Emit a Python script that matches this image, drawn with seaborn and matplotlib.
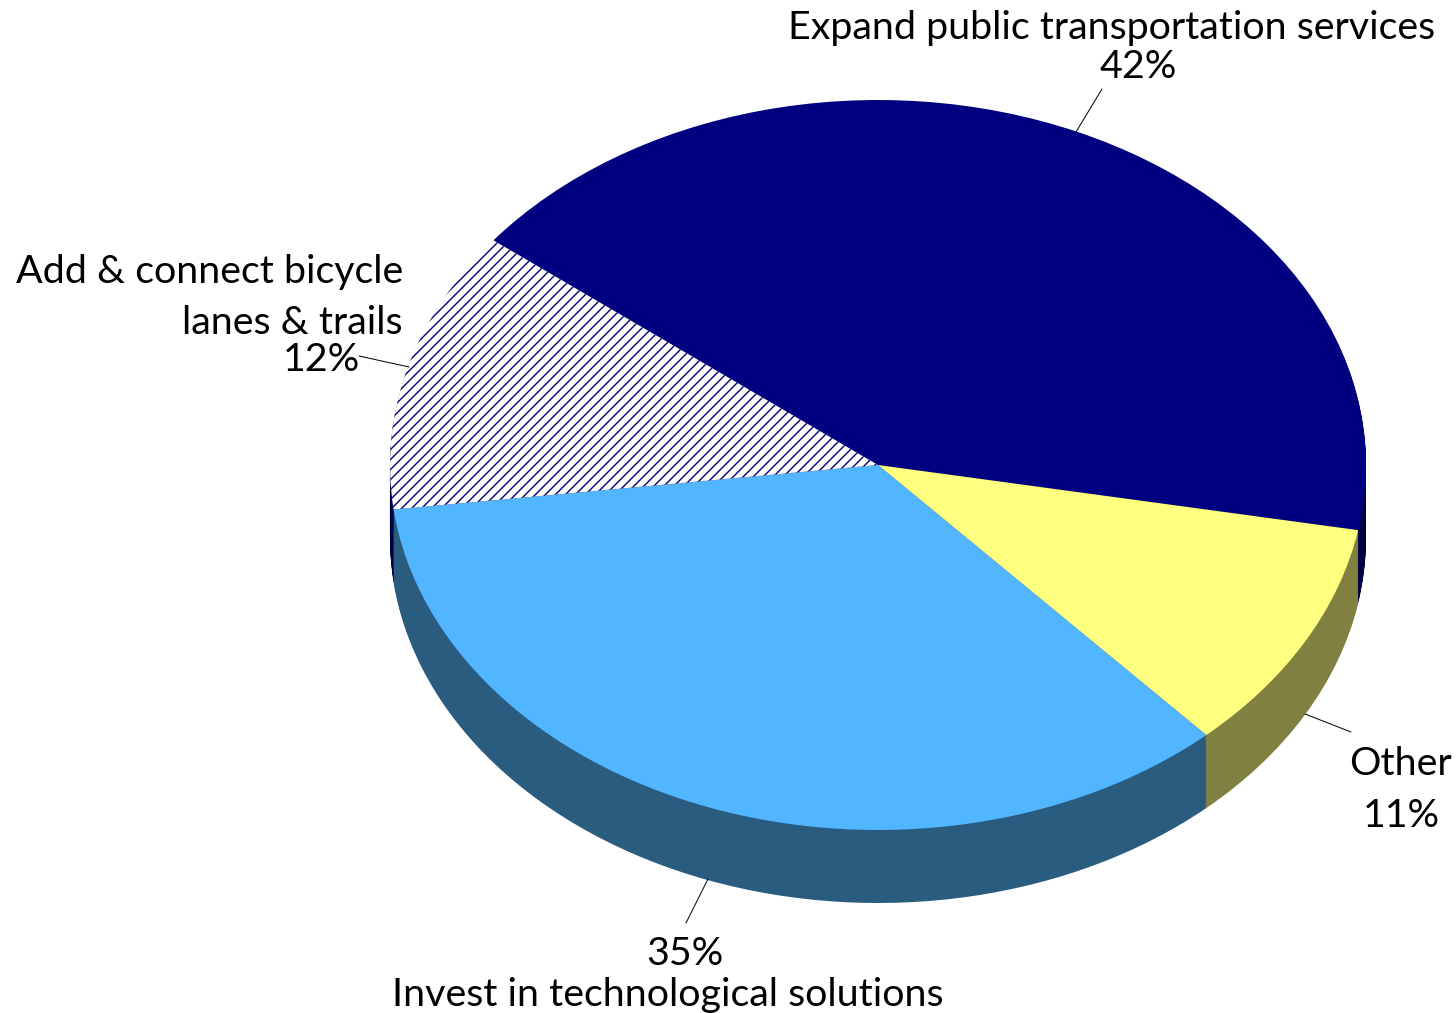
import seaborn as sns
import numpy as np
import matplotlib
matplotlib.use('Agg')
import matplotlib.pyplot as plt

W, H = 1456, 1014
DPI = 120

categories = ['Expand public transportation services', 'Other', 'Invest in technological solutions', 'Add & connect bicycle lanes & trails']
values = [42.3, 10.4, 34.8, 12.5]
labels = ['42%', '11%', '35%', '12%']
top_colors = ['#000080', '#FFFF80', '#52B5FF', '#FFFFFF']
wall_colors = ['#000045', '#808040', '#2A5C80', '#000045']

# pie geometry in reference pixels
cx, cy, rx, ry = 878, 466, 488, 365
depth = 73
start = 142

sns.set_theme(style='white')
plt.rcParams['font.family'] = ['Lato', 'DejaVu Sans']
plt.rcParams['hatch.linewidth'] = 0.85

fig = plt.figure(figsize=(W / DPI, H / DPI), dpi=DPI, facecolor='white')
ax = fig.add_axes([0, 0, 1, 1])

# extruded wall: stack of dark pies, one pixel apart
for d in np.arange(depth, 0, -1):
    ax.pie(values, colors=sns.color_palette(wall_colors), startangle=start, counterclock=False,
           center=(0, -d / ry), wedgeprops={'linewidth': 0})

# top face
wedges, _ = ax.pie(values, colors=sns.color_palette(top_colors), startangle=start, counterclock=False,
                   wedgeprops={'linewidth': 0})
wedges[3].set_edgecolor('#000080')
wedges[3].set_hatch('////')

ax.set_aspect('auto')
ax.set_xlim(-cx / rx, (W - cx) / rx)
ax.set_ylim(-(H - cy) / ry, cy / ry)
ax.axis('off')


def pos(x, y):
    return x / W, 1 - y / H


# text lines: string, x, baseline y, horizontal alignment
text_lines = [
    (categories[0], 1112, 39, 'center'),
    (labels[0], 1138, 78, 'center'),
    ('Add & connect bicycle', 403, 283, 'right'),
    ('lanes & trails', 403, 334, 'right'),
    (labels[3], 360, 371, 'right'),
    (categories[1], 1400, 775, 'center'),
    (labels[1], 1401, 827, 'center'),
    (labels[2], 685, 965, 'center'),
    (categories[2], 668, 1006, 'center'),
]
for s, x, y, ha in text_lines:
    fx, fy = pos(x, y)
    fig.text(fx, fy, s, ha=ha, va='baseline', fontsize=23.6, color='black')

# leader lines
leaders = [
    ((1076, 133), (1102, 90)),
    ((409, 368), (359, 357)),
    ((1305, 715), (1351, 733)),
    ((708, 880), (686, 924)),
]
for a, b in leaders:
    ax.annotate('', xy=pos(*a), xytext=pos(*b), xycoords='figure fraction', textcoords='figure fraction',
                arrowprops={'arrowstyle': '-', 'color': 'black', 'lw': 0.6, 'shrinkA': 0, 'shrinkB': 0})

fig.savefig('out.png', dpi=DPI, facecolor='white')
